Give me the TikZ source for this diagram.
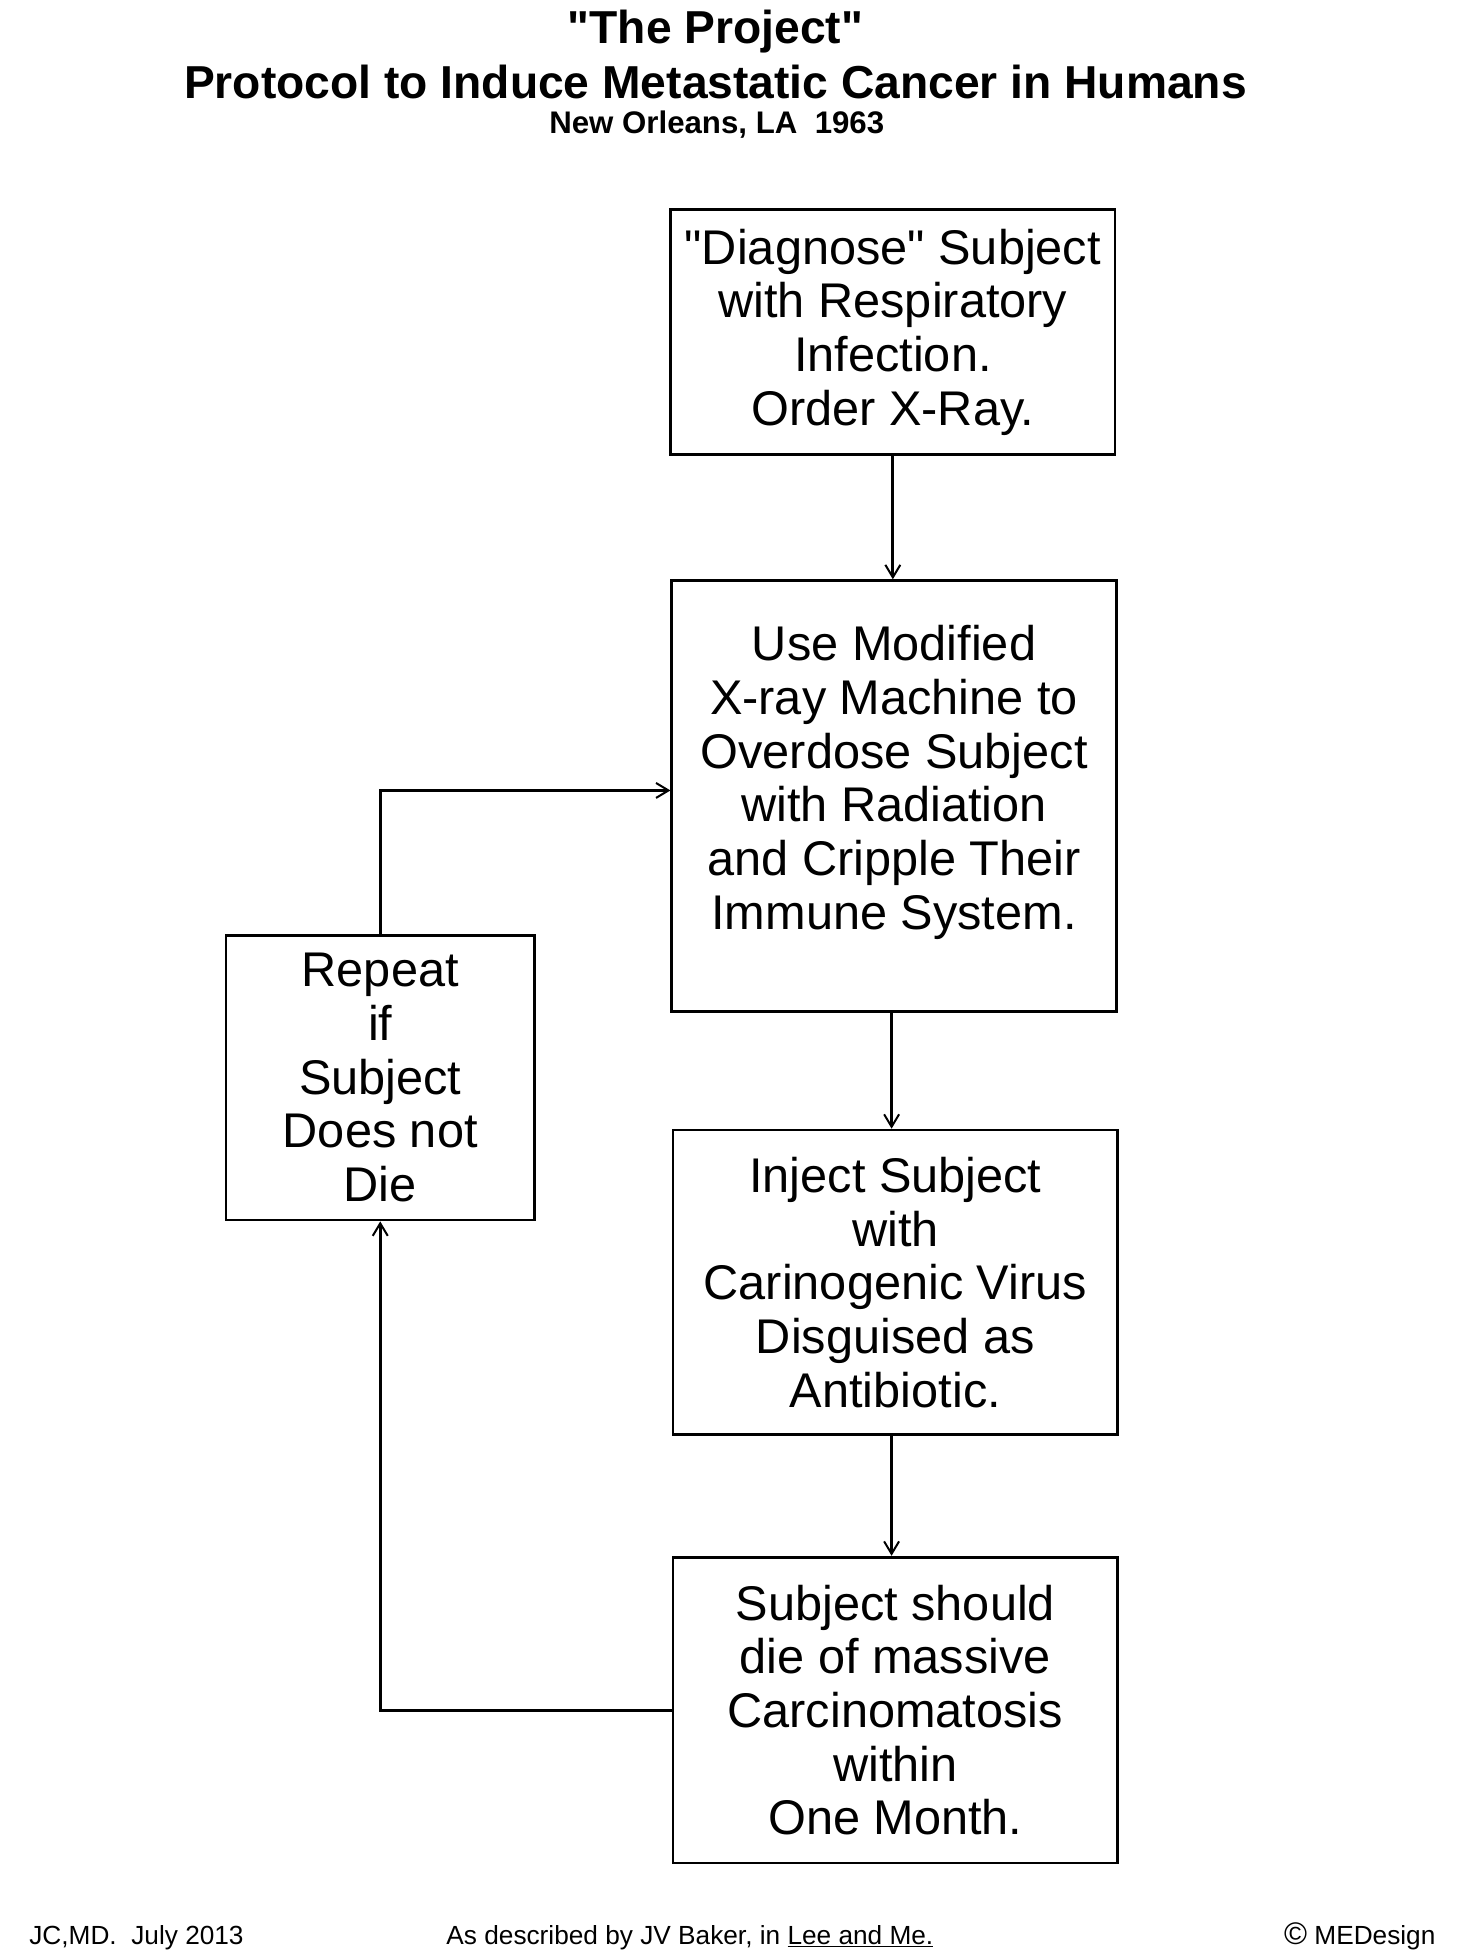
\documentclass[tikz,border=0pt]{standalone}
\usepackage{fontspec}
\setmainfont{Liberation Sans}[Ligatures=TeXOff]
\usetikzlibrary{arrows.meta,calc}
\begin{document}
\begin{tikzpicture}[x=1pt,y=-1pt,
  boxnode/.style={draw, line width=2.2pt, align=center, inner sep=0pt,
    font=\fontsize{39}{43}\selectfont},
  conn/.style={line width=2.2pt, -{Straight Barb[length=10pt,width=12pt,line width=1.6pt]}},
  titlefont/.style={font=\bfseries\fontsize{37}{40}\selectfont},
  footfont/.style={font=\fontsize{21}{24}\selectfont}]
\useasboundingbox (0,0) rectangle (1166,1562.4);
% titles
\node[titlefont, anchor=base] (t1) at (573,35) {"The Project"};
\node[titlefont, anchor=base] (t2) at (573,79) {Protocol to Induce Metastatic Cancer in Humans};
\node[font=\bfseries\fontsize{25}{28}\selectfont, anchor=base] (t3) at (574,107) {New Orleans, LA\ \ 1963};
% boxes
\node[boxnode, minimum width=356pt, minimum height=196pt] (b1) at (715,266)
  {"Diagnose" Subject\\ with Respiratory\\ Infection.\\ Order X-Ray.};
\node[boxnode, minimum width=356pt, minimum height=345pt] (b2) at (716,637.5)
  {Use Modified\\ X-ray Machine to\\ Overdose Subject\\ with Radiation\\ and Cripple Their\\ Immune System.\rule[-30pt]{0pt}{30pt}};
\node[boxnode, minimum width=356pt, minimum height=244pt] (b3) at (717,1027)
  {Inject Subject\\ with\\ Carinogenic Virus\\ Disguised as\\ Antibiotic.};
\node[boxnode, minimum width=356pt, minimum height=245pt] (b4) at (717,1369.5)
  {Subject should\\ die of massive\\ Carcinomatosis\\ within\\ One Month.};
\node[boxnode, minimum width=247pt, minimum height=228pt] (rep) at (304.5,863)
  {Repeat\\ if\\ Subject\\ Does not\\ Die};
% connectors
\draw[conn] (b1.south) -- (b1.south |- b2.north);
\draw[conn] ($(b2.south)+(-2,0)$) -- ($(b3.north)+(-3,0)$);
\draw[conn] ($(b3.south)+(-3,0)$) -- ($(b4.north)+(-3,0)$);
\draw[conn] (b4.west) -| (rep.south);
\draw[conn] (rep.north) |- ($(b2.west)+(0,-4.5)$);
% footer
\node[footfont, anchor=base west] (f1) at (20,1557) {JC,MD.\ \ July 2013};
\node[footfont, anchor=base] (f2) at (552.5,1557) {As described by JV Baker, in \underline{Lee and Me.}};
\node[footfont, anchor=base east] (f3) at (1153,1557) {{\fontsize{25}{25}\selectfont ©} MEDesign};
\end{tikzpicture}
\end{document}
